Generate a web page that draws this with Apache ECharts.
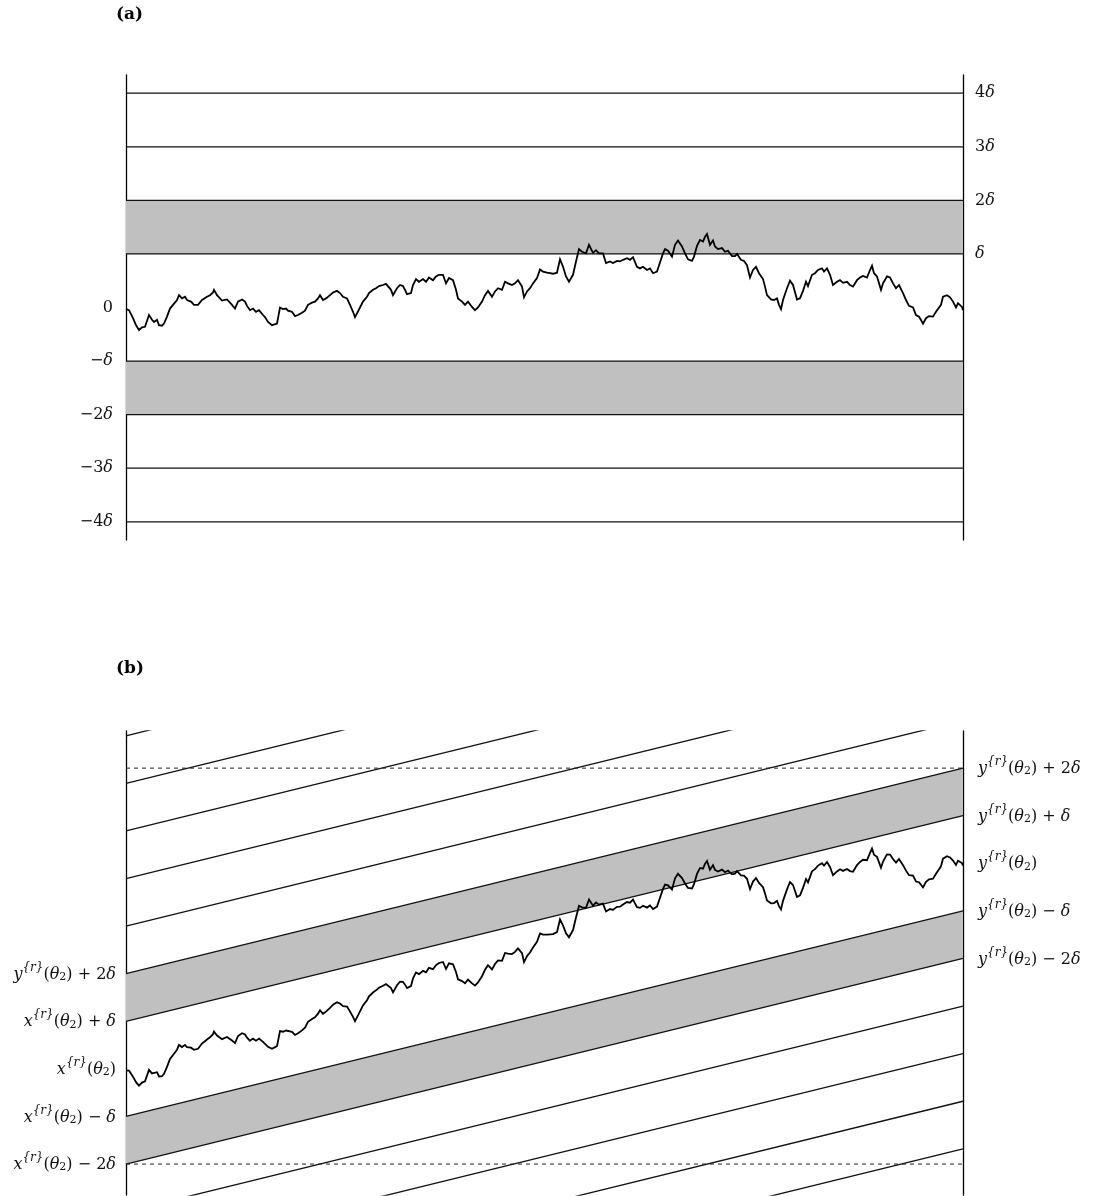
<!DOCTYPE html>
<html>
<head>
<meta charset="utf-8">
<script src="https://cdn.jsdelivr.net/npm/echarts@6/dist/echarts.min.js"></script>
<style>
html, body { margin: 0; padding: 0; background: #fff; }
#main { width: 1093px; height: 1196px; }
</style>
</head>
<body>
<div id="main"></div>
<script>
// sampled path: time on 0..837, value in units of delta
var walkT = [0, 3, 7, 10, 13, 16, 19, 21, 23, 26, 28, 31, 33, 36, 38, 41, 44, 47, 51, 53,
	56, 59, 61, 65, 68, 70, 72, 76, 78, 81, 84, 87, 88, 91, 93, 96, 98, 101, 103, 106,
	109, 112, 116, 119, 121, 124, 127, 130, 133, 137, 139, 142, 146, 148, 151, 154, 157, 160, 162, 166,
	169, 172, 176, 179, 182, 186, 189, 192, 194, 197, 200, 204, 207, 211, 214, 217, 221, 224, 227, 229,
	231, 234, 237, 241, 243, 247, 250, 253, 257, 260, 262, 265, 267, 271, 274, 277, 279, 281, 285, 287,
	290, 293, 297, 300, 303, 307, 310, 313, 317, 320, 323, 327, 330, 332, 336, 339, 342, 346, 349, 352,
	356, 359, 362, 366, 369, 372, 376, 379, 382, 386, 389, 392, 396, 398, 401, 404, 407, 411, 414, 417,
	421, 424, 427, 431, 434, 437, 440, 443, 447, 450, 453, 456, 458, 460, 463, 467, 470, 473, 477, 480,
	484, 487, 491, 494, 497, 501, 504, 507, 511, 514, 517, 521, 524, 527, 531, 533, 537, 539, 542, 546,
	549, 552, 556, 559, 562, 566, 568, 571, 574, 577, 579, 581, 584, 587, 589, 592, 596, 599, 602, 606,
	609, 611, 615, 618, 621, 624, 627, 630, 633, 637, 639, 641, 645, 648, 651, 653, 655, 657, 661, 664,
	667, 671, 674, 677, 680, 682, 686, 689, 692, 696, 698, 701, 704, 707, 711, 714, 717, 721, 724, 727,
	731, 734, 737, 741, 744, 746, 748, 751, 755, 757, 761, 764, 767, 770, 773, 777, 780, 783, 787, 790,
	793, 797, 800, 803, 807, 810, 812, 815, 817, 821, 824, 827, 830, 832, 836, 837]
var walkV = [-0.03, -0.05, -0.20, -0.33, -0.42, -0.37, -0.36, -0.33, -0.14, -0.23, -0.27, -0.23, -0.33, -0.34, -0.30, -0.17, -0.02, 0.05, 0.14, 0.23,
	0.17, 0.20, 0.14, 0.11, 0.05, 0.02, 0.05, 0.14, 0.17, 0.20, 0.23, 0.28, 0.33, 0.23, 0.20, 0.13, 0.11, 0.15, 0.14, 0.05,
	-0.02, 0.11, 0.15, 0.11, 0.03, -0.05, -0.02, -0.08, -0.05, -0.14, -0.18, -0.27, -0.33, -0.36, -0.30, 0.00, -0.03, -0.02, -0.06, -0.08,
	-0.16, -0.14, -0.10, -0.06, 0.05, 0.09, 0.11, 0.17, 0.23, 0.14, 0.17, 0.23, 0.28, 0.31, 0.27, 0.20, 0.17, 0.05, -0.08, -0.18,
	-0.11, 0.00, 0.11, 0.20, 0.27, 0.33, 0.36, 0.40, 0.42, 0.44, 0.44, 0.33, 0.23, 0.36, 0.42, 0.40, 0.33, 0.25, 0.27, 0.42,
	0.53, 0.48, 0.53, 0.48, 0.56, 0.51, 0.58, 0.61, 0.61, 0.45, 0.55, 0.51, 0.33, 0.17, 0.11, 0.05, 0.11, 0.01, -0.05, 0.00,
	0.11, 0.23, 0.31, 0.20, 0.30, 0.36, 0.33, 0.48, 0.45, 0.42, 0.45, 0.51, 0.39, 0.19, 0.30, 0.36, 0.45, 0.55, 0.71, 0.67,
	0.65, 0.64, 0.63, 0.65, 0.90, 0.76, 0.58, 0.48, 0.61, 0.86, 1.09, 1.04, 1.07, 1.01, 1.17, 1.02, 1.07, 1.01, 1.01, 0.83,
	0.86, 0.83, 0.87, 0.86, 0.89, 0.92, 0.89, 0.94, 0.76, 0.73, 0.76, 0.70, 0.73, 0.64, 0.67, 0.67, 1.01, 1.09, 1.06, 0.95,
	1.17, 1.25, 1.14, 1.01, 0.90, 0.87, 0.95, 1.15, 1.26, 1.23, 1.32, 1.37, 1.17, 1.25, 1.14, 1.09, 1.11, 1.04, 1.06, 0.96,
	0.96, 1.00, 0.89, 0.87, 0.79, 0.56, 0.70, 0.76, 0.64, 0.53, 0.39, 0.23, 0.15, 0.14, 0.17, 0.05, -0.03, 0.14, 0.36, 0.50,
	0.42, 0.15, 0.17, 0.31, 0.48, 0.40, 0.61, 0.64, 0.70, 0.73, 0.67, 0.73, 0.61, 0.42, 0.48, 0.51, 0.46, 0.48, 0.42, 0.39,
	0.51, 0.56, 0.59, 0.56, 0.70, 0.78, 0.64, 0.58, 0.33, 0.45, 0.58, 0.56, 0.45, 0.36, 0.42, 0.27, 0.14, 0.03, 0.00, -0.14,
	-0.17, -0.30, -0.20, -0.16, -0.17, -0.08, -0.08, 0.05, 0.20, 0.23, 0.19, 0.11, 0.00, 0.08, 0.01, -0.05]

var tEnd = 837
// rise of the reference level across panel (b), in delta
var driftB = 4.32

// panel (a)
var rangeA = [-4.34, 4.34]
var linesA = [4, 3, 2, 1, -1, -2, -3, -4]
var bandsA = [[1, 2], [-2, -1]]
var ticksALeft = [0, -1, -2, -3, -4]
var labelsALeft = ['{m|0}', '{m|−}{it|δ}', '{m|−2}{it|δ}', '{m|−3}{it|δ}', '{m|−4}{it|δ}']
var ticksARight = [4, 3, 2, 1]
var labelsARight = ['{m|4}{it|δ}', '{m|3}{it|δ}', '{m|2}{it|δ}', '{it|δ}']

// panel (b): offsets of the slanted lines from x{r}(theta2) at the left edge
var rangeB = [-2.65, 7.10]
var linesB = [7, 6, 5, 4, 3, 2, 1, -1, -2, -3, -4, -5, -6, -7]
var bandsB = [[1, 2], [-2, -1]]
var dashedB = [-2, 6.32]
var ticksBLeft = [2, 1, 0, -1, -2]
var labelsBLeft = [
	'{it|y}{r}{m|(}{it|θ}{sub|2}{m|) + 2}{it|δ}',
	'{it|x}{r}{m|(}{it|θ}{sub|2}{m|) + }{it|δ}',
	'{it|x}{r}{m|(}{it|θ}{sub|2}{m|)}',
	'{it|x}{r}{m|(}{it|θ}{sub|2}{m|) − }{it|δ}',
	'{it|x}{r}{m|(}{it|θ}{sub|2}{m|) − 2}{it|δ}'
]
var ticksBRight = [6.32, 5.32, 4.32, 3.32, 2.32]
var labelsBRight = [
	'{it|y}{r}{m|(}{it|θ}{sub|2}{m|) + 2}{it|δ}',
	'{it|y}{r}{m|(}{it|θ}{sub|2}{m|) + }{it|δ}',
	'{it|y}{r}{m|(}{it|θ}{sub|2}{m|)}',
	'{it|y}{r}{m|(}{it|θ}{sub|2}{m|) − }{it|δ}',
	'{it|y}{r}{m|(}{it|θ}{sub|2}{m|) − 2}{it|δ}'
]

var FONT = 'DejaVu Serif'
var INK = '#111'

function pickLabel(ticks, labels) {
	return function (value) {
		for (var i = 0; i < ticks.length; i++) {
			if (Math.abs(ticks[i] - value) < 1e-6) return labels[i]
		}
		return ''
	}
}

function simpleAxis(grid, pos, range, ticks, labels, margin) {
	return {
		type: 'value',
		gridIndex: grid,
		position: pos,
		min: range[0],
		max: range[1],
		axisLine: { show: true, onZero: false, lineStyle: { color: '#000', width: 1.3 } },
		axisTick: { show: false },
		splitLine: { show: false },
		axisLabel: {
			customValues: ticks,
			margin: margin,
			color: INK,
			fontFamily: FONT,
			fontSize: 16,
			formatter: pickLabel(ticks, labels),
			rich: {
				m: { fontFamily: FONT, fontSize: 16, fontStyle: 'normal', color: INK },
				it: { fontFamily: FONT, fontSize: 16, fontStyle: 'italic', color: INK },
			},
		},
	}
}

function mathAxis(grid, pos, range, ticks, labels, margin) {
	var ax = simpleAxis(grid, pos, range, ticks, labels, margin)
	// plain text in the label is the superscript {r}
	ax.axisLabel.fontSize = 12
	ax.axisLabel.fontStyle = 'italic'
	ax.axisLabel.lineHeight = 30
	ax.axisLabel.padding = [0, 0, 12, 0]
	ax.axisLabel.rich = {
		m: { fontFamily: FONT, fontSize: 16, lineHeight: 18, fontStyle: 'normal', verticalAlign: 'bottom', color: INK },
		it: { fontFamily: FONT, fontSize: 16, lineHeight: 18, fontStyle: 'italic', verticalAlign: 'bottom', color: INK },
		sub: { fontFamily: FONT, fontSize: 11, lineHeight: 10, fontStyle: 'normal', verticalAlign: 'bottom', color: INK },
	}
	return ax
}

function segment(grid, yAxis, y0, y1, style) {
	return {
		type: 'line',
		xAxisIndex: grid,
		yAxisIndex: yAxis,
		data: [[0, y0], [tEnd, y1]],
		symbol: 'none',
		silent: true,
		clip: true,
		z: 2,
		lineStyle: style,
		emphasis: { disabled: true },
	}
}

function band(grid, yAxis, lo, hi, drift) {
	return {
		type: 'custom',
		xAxisIndex: grid,
		yAxisIndex: yAxis,
		silent: true,
		z: 1,
		data: [[0, lo, hi]],
		encode: { x: 0, y: [1, 2] },
		renderItem: function (params, api) {
			var a = api.value(1)
			var b = api.value(2)
			var pts = [
				api.coord([0, a]),
				api.coord([tEnd, a + drift]),
				api.coord([tEnd, b + drift]),
				api.coord([0, b]),
			]
			return { type: 'polygon', shape: { points: pts }, style: { fill: '#c0c0c0' } }
		},
	}
}

var solid = { color: '#111', width: 1.3 }
var series = []

bandsA.forEach(function (b) { series.push(band(0, 0, b[0], b[1], 0)) })
linesA.forEach(function (v) { series.push(segment(0, 0, v, v, solid)) })
series.push({
	type: 'line',
	xAxisIndex: 0,
	yAxisIndex: 0,
	data: walkT.map(function (t, i) { return [t, walkV[i]] }),
	symbol: 'none',
	silent: true,
	z: 3,
	lineStyle: { color: '#000', width: 1.8, join: 'miter' },
})

bandsB.forEach(function (b) { series.push(band(1, 2, b[0], b[1], driftB)) })
linesB.forEach(function (k) { series.push(segment(1, 2, k, k + driftB, solid)) })
dashedB.forEach(function (v) {
	series.push(segment(1, 2, v, v, { color: '#222', width: 1, type: [4, 4] }))
})
series.push({
	type: 'line',
	xAxisIndex: 1,
	yAxisIndex: 2,
	data: walkT.map(function (t, i) { return [t, walkV[i] + driftB * t / tEnd] }),
	symbol: 'none',
	silent: true,
	z: 3,
	lineStyle: { color: '#000', width: 1.8, join: 'miter' },
})

var chart = echarts.init(document.getElementById('main'))
var option = {
	animation: false,
	backgroundColor: '#fff',
	title: [
		{ text: '(a)', left: 116, top: 6, padding: 0, textStyle: { fontFamily: FONT, fontSize: 17, fontWeight: 'bold', color: '#000' } },
		{ text: '(b)', left: 116, top: 660, padding: 0, textStyle: { fontFamily: FONT, fontSize: 17, fontWeight: 'bold', color: '#000' } },
	],
	grid: [
		{ left: 126, width: 837, top: 75, height: 465 },
		{ left: 126, width: 837, top: 731, height: 464 },
	],
	xAxis: [
		{ type: 'value', gridIndex: 0, min: 0, max: tEnd, show: false },
		{ type: 'value', gridIndex: 1, min: 0, max: tEnd, show: false },
	],
	yAxis: [
		simpleAxis(0, 'left', rangeA, ticksALeft, labelsALeft, 13),
		simpleAxis(0, 'right', rangeA, ticksARight, labelsARight, 12),
		mathAxis(1, 'left', rangeB, ticksBLeft, labelsBLeft, 10),
		mathAxis(1, 'right', rangeB, ticksBRight, labelsBRight, 15),
	],
	series: series,
}
chart.setOption(option)
</script>
</body>
</html>
